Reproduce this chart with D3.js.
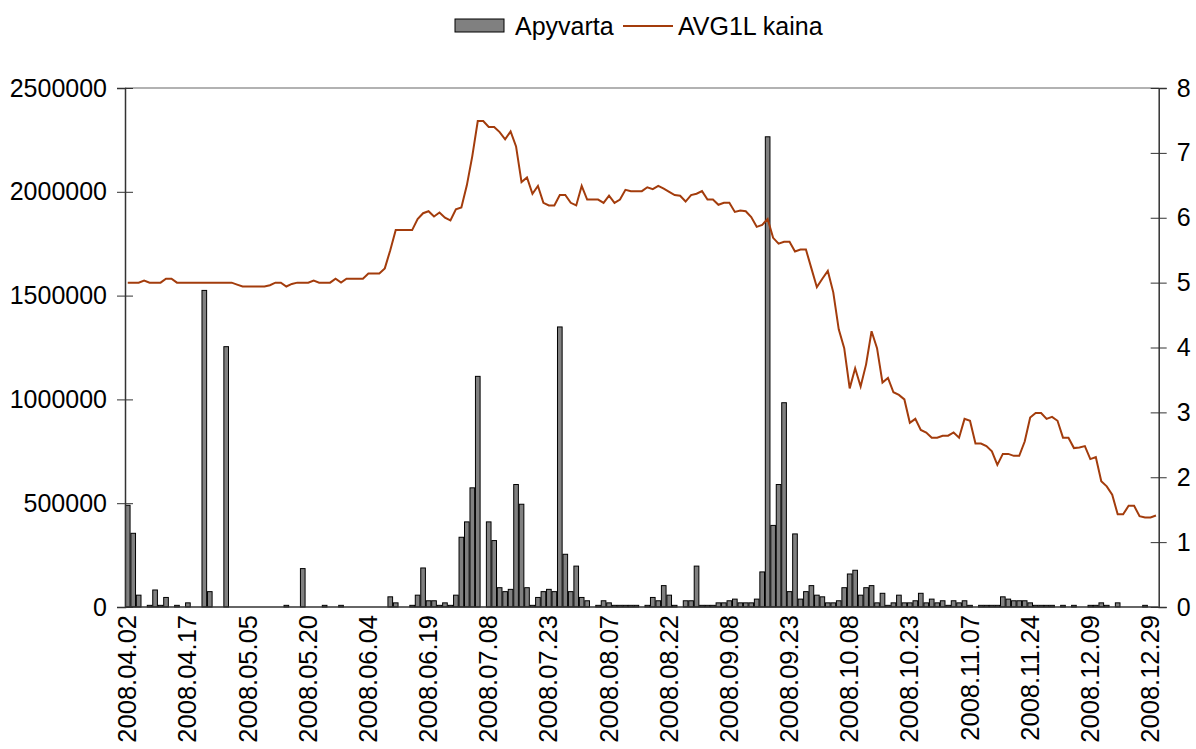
<!DOCTYPE html>
<html>
<head>
<meta charset="utf-8">
<style>
  body { margin: 0; background: #fff; }
  svg text { font-family: "Liberation Sans", Arial, sans-serif; fill: #000; }
  .axis path, .axis line { stroke: #333; }
</style>
<script src="https://d3js.org/d3.v7.min.js"></script>
</head>
<body>
<svg width="1196" height="749"></svg>
<script>
// tick labels, one every 11 trading days
var tickLabels = ["2008.04.02", "2008.04.17", "2008.05.05", "2008.05.20", "2008.06.04",
  "2008.06.19", "2008.07.08", "2008.07.23", "2008.08.07", "2008.08.22", "2008.09.08",
  "2008.09.23", "2008.10.08", "2008.10.23", "2008.11.07", "2008.11.24", "2008.12.09", "2008.12.29"];
var tickStep = 11;

// daily turnover (Apyvarta)
var turnover = [
  490000, 355000, 57000, 0, 8000, 82000, 8000, 46000, 0, 8000,
  0, 20000, 0, 0, 1525000, 74000, 0, 0, 1254000, 0,
  0, 0, 0, 0, 0, 0, 0, 0, 0, 8000,
  0, 0, 185000, 0, 0, 0, 8000, 0, 0, 8000,
  0, 0, 0, 0, 0, 0, 0, 0, 49000, 20000,
  0, 0, 8000, 57000, 188000, 30000, 30000, 8000, 20000, 8000,
  57000, 336000, 410000, 574000, 1111000, 0, 410000, 320000, 93000, 74000,
  85000, 590000, 495000, 93000, 8000, 46000, 74000, 85000, 74000, 1349000,
  254000, 74000, 197000, 46000, 30000, 0, 8000, 30000, 20000, 8000,
  8000, 8000, 8000, 8000, 0, 8000, 46000, 30000, 103000, 57000,
  8000, 0, 30000, 30000, 197000, 8000, 8000, 8000, 20000, 20000,
  30000, 38000, 20000, 20000, 20000, 38000, 169000, 2265000, 393000, 590000,
  984000, 74000, 352000, 38000, 74000, 103000, 57000, 49000, 20000, 20000,
  30000, 93000, 159000, 177000, 57000, 93000, 103000, 20000, 66000, 8000,
  20000, 57000, 20000, 20000, 30000, 66000, 20000, 38000, 20000, 30000,
  8000, 30000, 20000, 30000, 8000, 0, 8000, 8000, 8000, 8000,
  49000, 38000, 30000, 30000, 30000, 20000, 8000, 8000, 8000, 8000,
  0, 8000, 0, 8000, 0, 0, 8000, 8000, 20000, 8000,
  0, 20000, 0, 0, 0, 0, 8000, 0, 0
];

// AVG1L price
var price = [
  5.00, 5.00, 5.00, 5.03, 5.00, 5.00, 5.00, 5.06, 5.06, 5.00,
  5.00, 5.00, 5.00, 5.00, 5.00, 5.00, 5.00, 5.00, 5.00, 5.00,
  4.97, 4.94, 4.94, 4.94, 4.94, 4.94, 4.96, 5.00, 5.00, 4.94,
  4.98, 5.00, 5.00, 5.00, 5.03, 5.00, 5.00, 5.00, 5.06, 5.00,
  5.06, 5.06, 5.06, 5.06, 5.14, 5.14, 5.14, 5.22, 5.50, 5.81,
  5.81, 5.81, 5.81, 5.98, 6.07, 6.10, 6.02, 6.08, 6.00, 5.96,
  6.13, 6.16, 6.50, 6.95, 7.49, 7.49, 7.40, 7.40, 7.32, 7.21,
  7.33, 7.10, 6.55, 6.62, 6.37, 6.49, 6.23, 6.19, 6.19, 6.35,
  6.35, 6.23, 6.19, 6.49, 6.28, 6.28, 6.28, 6.23, 6.34, 6.23,
  6.28, 6.43, 6.41, 6.41, 6.41, 6.47, 6.44, 6.49, 6.45, 6.40,
  6.35, 6.34, 6.25, 6.35, 6.37, 6.41, 6.28, 6.28, 6.20, 6.23,
  6.23, 6.09, 6.11, 6.10, 6.01, 5.86, 5.89, 5.98, 5.69, 5.60,
  5.63, 5.63, 5.48, 5.51, 5.51, 5.22, 4.93, 5.06, 5.18, 4.85,
  4.28, 3.99, 3.37, 3.68, 3.40, 3.74, 4.25, 3.99, 3.46, 3.53,
  3.31, 3.27, 3.20, 2.84, 2.90, 2.73, 2.69, 2.61, 2.61, 2.64,
  2.64, 2.69, 2.61, 2.90, 2.87, 2.52, 2.52, 2.48, 2.40, 2.19,
  2.36, 2.36, 2.33, 2.33, 2.55, 2.92, 2.99, 2.99, 2.90, 2.93,
  2.87, 2.61, 2.61, 2.45, 2.46, 2.48, 2.28, 2.31, 1.94, 1.86,
  1.73, 1.43, 1.43, 1.56, 1.56, 1.40, 1.38, 1.38, 1.41
];

var leftTicks = [0, 500000, 1000000, 1500000, 2000000, 2500000];
var rightTicks = [0, 1, 2, 3, 4, 5, 6, 7, 8];

var svg = d3.select("svg");
var plotLeft = 125, plotRight = 1158.7, plotTop = 88, plotBottom = 607;
var fontSize = "25px";

var x = d3.scaleBand()
  .domain(d3.range(turnover.length))
  .range([plotLeft, plotRight])
  .paddingInner(0.15)
  .paddingOuter(0.075);
var yL = d3.scaleLinear().domain([0, 2500000]).range([plotBottom, plotTop]);
var yR = d3.scaleLinear().domain([0, 8]).range([plotBottom, plotTop]);

// plot frame (top edge)
svg.append("line")
  .attr("x1", plotLeft).attr("x2", plotRight)
  .attr("y1", plotTop).attr("y2", plotTop)
  .attr("stroke", "#999").attr("stroke-width", 1.5);

// bars
svg.append("g").selectAll("rect")
  .data(turnover.map(function(v, i) { return {i: i, v: v}; }).filter(function(d) { return d.v > 0; }))
  .enter().append("rect")
  .attr("x", function(d) { return x(d.i); })
  .attr("y", function(d) { return yL(d.v); })
  .attr("width", x.bandwidth())
  .attr("height", function(d) { return plotBottom - yL(d.v); })
  .attr("fill", "#808080")
  .attr("stroke", "#000")
  .attr("stroke-width", 1);

// price line
var line = d3.line()
  .x(function(d, i) { return x(i) + x.bandwidth() / 2; })
  .y(function(d) { return yR(d); });
svg.append("path")
  .datum(price)
  .attr("d", line)
  .attr("fill", "none")
  .attr("stroke", "#a33c0c")
  .attr("stroke-width", 2);

// left axis
var gL = svg.append("g").attr("class", "axis")
  .attr("transform", "translate(" + plotLeft + ",0)")
  .call(d3.axisLeft(yL).tickValues(leftTicks).tickFormat(d3.format("d")).tickSize(8).tickPadding(10));
gL.selectAll(".tick line").attr("x2", 8).attr("x1", -8);
gL.selectAll("text").style("font-size", fontSize);
gL.select(".domain").attr("stroke-width", 1.5);

// right axis
var gR = svg.append("g").attr("class", "axis")
  .attr("transform", "translate(" + plotRight + ",0)")
  .call(d3.axisRight(yR).tickValues(rightTicks).tickSize(8).tickPadding(10));
gR.selectAll(".tick line").attr("x1", -8).attr("x2", 8);
gR.selectAll("text").style("font-size", fontSize);
gR.select(".domain").attr("stroke-width", 1.5);

// bottom axis line
svg.append("line")
  .attr("x1", plotLeft).attr("x2", plotRight)
  .attr("y1", plotBottom).attr("y2", plotBottom)
  .attr("stroke", "#333").attr("stroke-width", 1.5);

// category labels
svg.append("g").selectAll("text")
  .data(tickLabels)
  .enter().append("text")
  .attr("transform", function(d, k) {
    var cx = x(k * tickStep) + x.bandwidth() / 2;
    return "translate(" + (cx + 8.5) + "," + (plotBottom + 8) + ") rotate(-90)";
  })
  .attr("text-anchor", "end")
  .style("font-size", "25.5px")
  .text(function(d) { return d; });

// legend
var lg = svg.append("g").attr("transform", "translate(455,19)");
lg.append("rect")
  .attr("x", 0).attr("y", 0).attr("width", 49).attr("height", 13)
  .attr("fill", "#808080").attr("stroke", "#000").attr("stroke-width", 1);
lg.append("text").attr("x", 60).attr("y", 16).style("font-size", fontSize).text("Apyvarta");
lg.append("line")
  .attr("x1", 168).attr("x2", 218).attr("y1", 7).attr("y2", 7)
  .attr("stroke", "#a33c0c").attr("stroke-width", 2);
lg.append("text").attr("x", 223).attr("y", 16).style("font-size", fontSize).text("AVG1L kaina");
</script>
</body>
</html>
